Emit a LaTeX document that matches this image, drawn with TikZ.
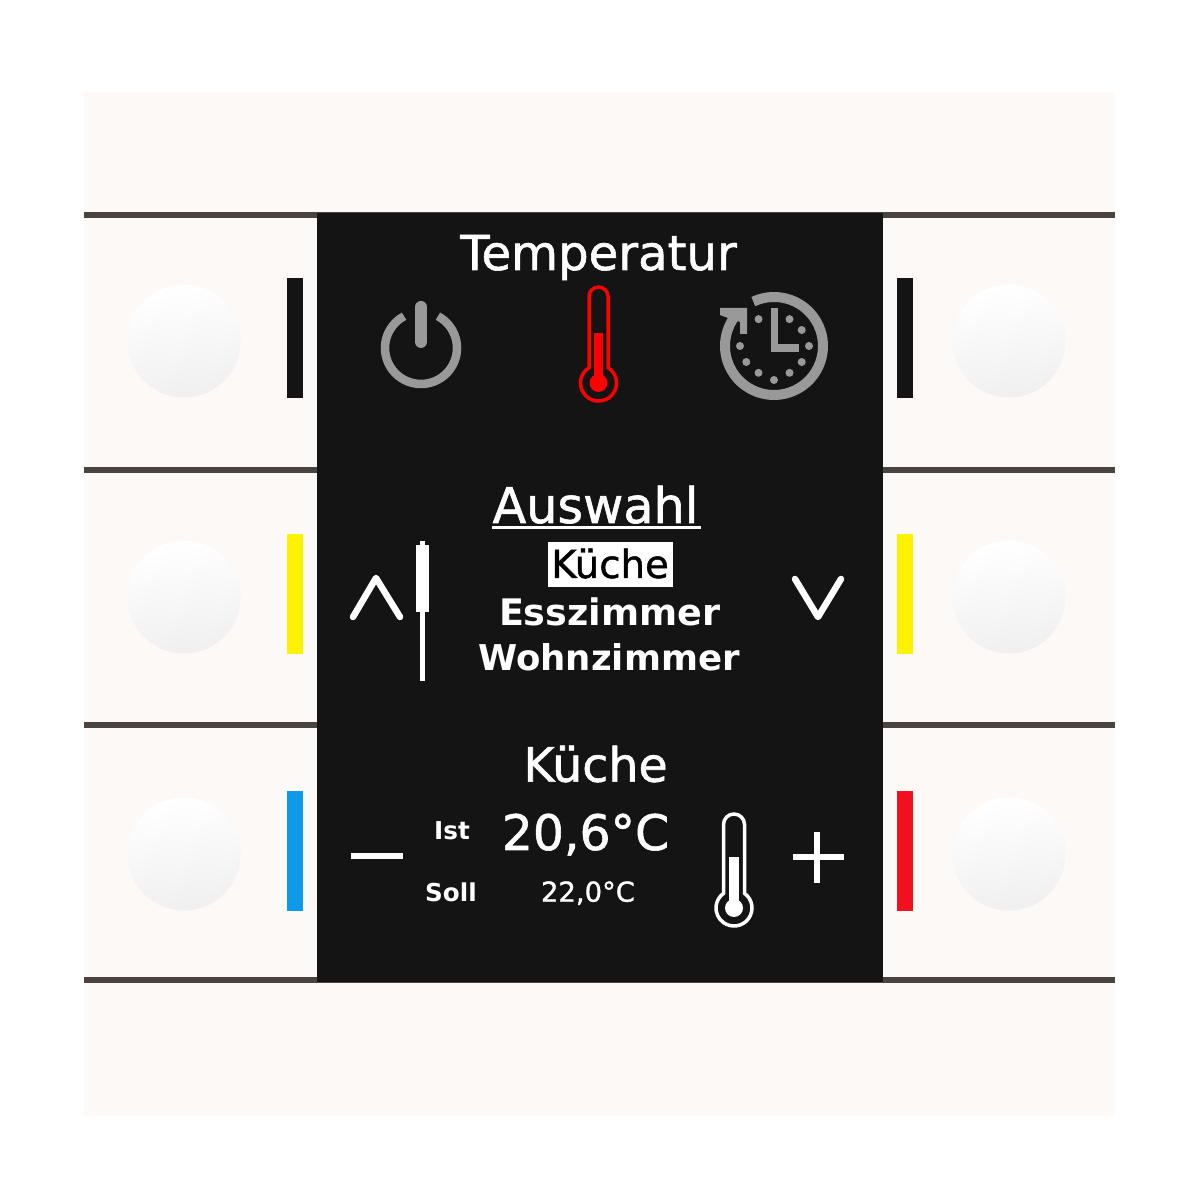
\documentclass[tikz,border=0pt]{standalone}
\usepackage{fontspec}
\setmainfont{DejaVu Sans}
\newfontfamily\medfont{DejaVu Sans}[FakeBold=1.2]
\definecolor{panelcol}{HTML}{FCF9F6}
\definecolor{gapcol}{HTML}{4B4340}
\definecolor{screencol}{HTML}{141414}
\definecolor{iconcol}{HTML}{999999}
\definecolor{ledyellow}{HTML}{FFF200}
\definecolor{ledblue}{HTML}{0E9AE8}
\definecolor{ledred}{HTML}{F0101E}
\tikzstyle{btn} = [circle,minimum size=1.13cm,inner sep=0pt,top color=white,middle color=white,bottom color=black!6,shading angle=10]
\tikzstyle{lbl} = [text=white,anchor=base,inner sep=0pt]
\tikzstyle{gap} = [gapcol,line width=0.06cm]
\tikzstyle{icon} = [iconcol,line width=0.1cm]
\tikzstyle{glyph} = [white,line width=0.065cm,line cap=round,line join=round]
\newcommand{\fsize}[1]{\fontsize{#1}{#1}\selectfont}
% x, y of bulb, colour, tube height, half width, column height
\newcommand{\thermo}[6]{
  \pgfmathsetmacro{\neckang}{acos(#5/18)}
  \draw[#3,line width=0.035cm] (#1,#2) ++(\neckang:18)
    arc[start angle=\neckang,end angle=-180-\neckang,radius=18]
    -- ({#1-#5},{#2+#4-#5}) arc[start angle=180,end angle=0,radius=#5] -- cycle;
  \fill[#3] (#1,#2) circle (9);
  \fill[#3] ({#1-4.7},#2) rectangle ({#1+4.7},{#2+#6});
}
\begin{document}
\begin{tikzpicture}[x=0.01cm,y=0.01cm]
  \useasboundingbox (0,0) rectangle (1200,1200);

  % housing
  \fill[panelcol] (84,84) rectangle (1115,1108);
  \foreach \y in {984.5,729.5,475,220}
    \draw[gap] (84,\y) -- (1115,\y);
  \fill[screencol] (317,218) rectangle (883,987);

  % buttons
  \node[btn] (btnA) at (184,859) {};
  \node[btn] (btnB) at (184,603) {};
  \node[btn] (btnC) at (184,346) {};
  \node[btn] (btnD) at (1009,859) {};
  \node[btn] (btnE) at (1009,603) {};
  \node[btn] (btnF) at (1009,346) {};

  % colour bars
  \foreach \x/\y/\c in {295/862/screencol,295/606/ledyellow,295/349/ledblue,
                        905/862/screencol,905/606/ledyellow,905/349/ledred}
    \fill[\c] ({\x-8},{\y-60}) rectangle ({\x+8},{\y+60});

  % top row
  \node[lbl,font=\medfont\fsize{13.7}] (temperatur) at (598.5,930) {Temperatur};
  \draw[icon,line width=0.085cm] (421,852) ++(62:36) arc[start angle=62,end angle=-242,radius=36];
  \draw[iconcol,line width=0.12cm,line cap=round] (421,893) -- (421,858);
  \thermo{598.5}{817}{red}{96}{9.5}{50}
  \draw[icon] (774,854) ++(115:49) arc[start angle=115,end angle=-220,radius=49];
  \fill[iconcol] (720,892) -- (747,892) -- (747,866) -- (740,866) -- (740,878) -- (728,882) -- (720,885) -- cycle;
  \draw[iconcol,line width=0.075cm] (774.7,892) -- (774.7,852) -- (799,852);
  \foreach \a/\r in {60/31,30/32,0/35,-30/32,-60/31,-90/34,-120/31,-150/32,180/34,120/31}
    \fill[iconcol] (774,854) ++(\a:\r) circle (4);

  % selection list
  \node[lbl,font=\medfont\fsize{14}] (auswahl) at (595.5,677) {Auswahl};
  \fill[white] (492,671) rectangle (701,673.5);
  \fill[white] (547.6,612.7) rectangle (672.6,658.3);
  \node[lbl,font=\medfont\fsize{11},text=black] (kueche) at (610,622) {Küche};
  \node[lbl,font=\bfseries\fsize{10.4}] (esszimmer) at (609.7,574.3) {Esszimmer};
  \node[lbl,font=\bfseries\fsize{10.1}] (wohnzimmer) at (609,529) {Wohnzimmer};
  \draw[glyph] (353,583) -- (376,622) -- (400,583);
  \draw[glyph] (795,621) -- (818,583) -- (841,621);
  \fill[white] (416,588) rectangle (429,655);
  \fill[white] (420,655) rectangle (425,659);
  \fill[white] (420,519.3) rectangle (425,588);

  % room values
  \node[lbl,font=\medfont\fsize{13.5}] (raum) at (595.5,418.3) {Küche};
  \node[lbl,font=\bfseries\fsize{7}] (ist) at (452,360) {Ist};
  \node[lbl,font=\bfseries\fsize{7}] (soll) at (451,298.3) {Soll};
  \node[lbl,font=\medfont\fsize{13.9}] (istwert) at (585.5,350) {20,6°C};
  \node[lbl,font=\medfont\fsize{7.8}] (sollwert) at (588,298.3) {22,0°C};
  \draw[white,line width=0.055cm] (351,344) -- (403,344);
  \draw[white,line width=0.06cm] (793,343.3) -- (844,343.3);
  \draw[white,line width=0.06cm] (817,317) -- (817,368.3);
  \thermo{734}{292}{white}{94}{10.5}{51}
\end{tikzpicture}
\end{document}
